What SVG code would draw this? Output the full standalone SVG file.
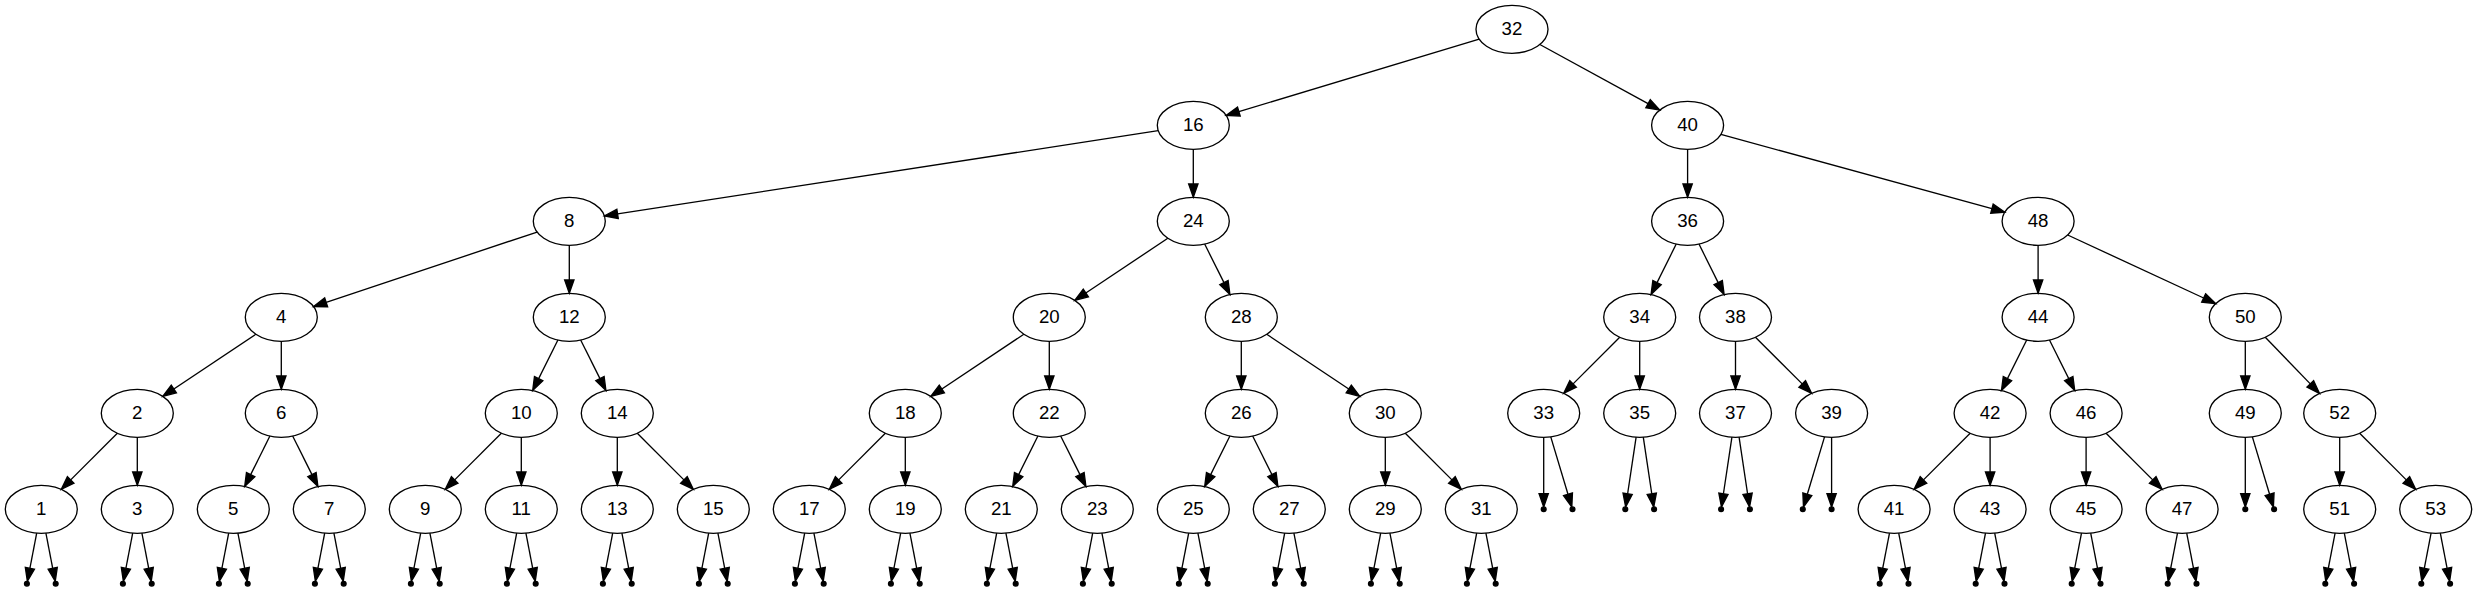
<svg xmlns="http://www.w3.org/2000/svg" width="2477" height="591" viewBox="0 0 2477 591">
<style>
.n ellipse{fill:none;stroke:#000;stroke-width:1.33}
.n text{font-family:"Liberation Sans",Arial,sans-serif;font-size:18.67px;text-anchor:middle;fill:#000}
.p circle{fill:#000;stroke:#000;stroke-width:1.33}
#edges path{fill:none;stroke:#000;stroke-width:1.33;marker-end:url(#arr)}
</style>
<defs>
<marker id="arr" markerUnits="userSpaceOnUse" markerWidth="16" markerHeight="12" viewBox="0 0 16 12" refX="0" refY="4.67" orient="auto" overflow="visible">
<path d="M0,0 L13.33,4.67 L0,9.33 Z" fill="#000" stroke="#000" stroke-width="1.33"/>
</marker>
</defs>
<rect width="2477" height="591" fill="#fff"/>
<g id="edges">
<path d="M1479.19,39.18 L1238.87,111.58"/>
<path d="M1539.84,44.52 L1648.06,103.69"/>
<path d="M1158.22,130.7 L617.56,213.87"/>
<path d="M1193.3,149.3 L1193.3,183.97"/>
<path d="M1687.6,149.3 L1687.6,183.97"/>
<path d="M1720.9,134.42 L1991.94,208.66"/>
<path d="M537.1,232.03 L326.15,302.35"/>
<path d="M569.3,245.3 L569.3,279.97"/>
<path d="M1167.84,238.27 L1085.85,292.94"/>
<path d="M1204.68,244.07 L1223.96,282.61"/>
<path d="M1676.24,244.07 L1657.02,282.61"/>
<path d="M1698.96,244.07 L1718.18,282.61"/>
<path d="M2038.1,245.3 L2038.1,279.97"/>
<path d="M2067.66,235 L2203.64,298"/>
<path d="M255.84,334.27 L173.85,388.94"/>
<path d="M281.3,341.3 L281.3,375.97"/>
<path d="M557.92,340.07 L538.64,378.61"/>
<path d="M580.68,340.07 L599.96,378.61"/>
<path d="M1023.84,334.27 L941.85,388.94"/>
<path d="M1049.3,341.3 L1049.3,375.97"/>
<path d="M1241.3,341.3 L1241.3,375.97"/>
<path d="M1266.76,334.27 L1348.75,388.94"/>
<path d="M1619.73,337.27 L1573.1,383.9"/>
<path d="M1639.7,341.3 L1639.7,375.97"/>
<path d="M1735.5,341.3 L1735.5,375.97"/>
<path d="M1755.47,337.27 L1802.2,383.9"/>
<path d="M2026.72,340.07 L2007.44,378.61"/>
<path d="M2049.48,340.07 L2068.76,378.61"/>
<path d="M2245.3,341.3 L2245.3,375.97"/>
<path d="M2265.27,337.27 L2310.3,383.9"/>
<path d="M117.33,433.27 L70.7,479.9"/>
<path d="M137.3,437.3 L137.3,471.97"/>
<path d="M269.92,436.07 L250.64,474.61"/>
<path d="M292.68,436.07 L311.96,474.61"/>
<path d="M501.33,433.27 L454.7,479.9"/>
<path d="M521.3,437.3 L521.3,471.97"/>
<path d="M617.3,437.3 L617.3,471.97"/>
<path d="M637.27,433.27 L683.9,479.9"/>
<path d="M885.33,433.27 L838.7,479.9"/>
<path d="M905.3,437.3 L905.3,471.97"/>
<path d="M1037.92,436.07 L1018.64,474.61"/>
<path d="M1060.68,436.07 L1079.96,474.61"/>
<path d="M1229.92,436.07 L1210.64,474.61"/>
<path d="M1252.68,436.07 L1271.96,474.61"/>
<path d="M1385.3,437.3 L1385.3,471.97"/>
<path d="M1405.27,433.27 L1451.9,479.9"/>
<path d="M1970.13,433.27 L1923.5,479.9"/>
<path d="M1990.1,437.3 L1990.1,471.97"/>
<path d="M2086.1,437.3 L2086.1,471.97"/>
<path d="M2106.07,433.27 L2152.7,479.9"/>
<path d="M2339.7,437.3 L2339.7,471.97"/>
<path d="M2359.67,433.27 L2406.3,479.9"/>
<path d="M1543.7,437.3 L1543.7,493.57"/>
<path d="M1550.76,436.83 L1567.98,494.23"/>
<path d="M1636.12,437.18 L1627.63,493.74"/>
<path d="M1643.28,437.18 L1651.77,493.74"/>
<path d="M1731.92,437.18 L1723.43,493.74"/>
<path d="M1739.08,437.18 L1747.57,493.74"/>
<path d="M1824.54,436.83 L1807.32,494.23"/>
<path d="M1831.6,437.3 L1831.6,493.57"/>
<path d="M2245.3,437.3 L2245.3,493.57"/>
<path d="M2252.36,436.83 L2269.58,494.23"/>
<path d="M36.69,533.1 L29.89,568.26"/><path d="M45.91,533.1 L52.71,568.26"/>
<path d="M132.69,533.1 L125.89,568.26"/><path d="M141.91,533.1 L148.71,568.26"/>
<path d="M228.69,533.1 L221.89,568.26"/><path d="M237.91,533.1 L244.71,568.26"/>
<path d="M324.69,533.1 L317.89,568.26"/><path d="M333.91,533.1 L340.71,568.26"/>
<path d="M420.69,533.1 L413.89,568.26"/><path d="M429.91,533.1 L436.71,568.26"/>
<path d="M516.69,533.1 L509.89,568.26"/><path d="M525.91,533.1 L532.71,568.26"/>
<path d="M612.69,533.1 L605.89,568.26"/><path d="M621.91,533.1 L628.71,568.26"/>
<path d="M708.69,533.1 L701.89,568.26"/><path d="M717.91,533.1 L724.71,568.26"/>
<path d="M804.69,533.1 L797.89,568.26"/><path d="M813.91,533.1 L820.71,568.26"/>
<path d="M900.69,533.1 L893.89,568.26"/><path d="M909.91,533.1 L916.71,568.26"/>
<path d="M996.69,533.1 L989.89,568.26"/><path d="M1005.91,533.1 L1012.71,568.26"/>
<path d="M1092.69,533.1 L1085.89,568.26"/><path d="M1101.91,533.1 L1108.71,568.26"/>
<path d="M1188.69,533.1 L1181.89,568.26"/><path d="M1197.91,533.1 L1204.71,568.26"/>
<path d="M1284.69,533.1 L1277.89,568.26"/><path d="M1293.91,533.1 L1300.71,568.26"/>
<path d="M1380.69,533.1 L1373.89,568.26"/><path d="M1389.91,533.1 L1396.71,568.26"/>
<path d="M1476.69,533.1 L1469.89,568.26"/><path d="M1485.91,533.1 L1492.71,568.26"/>
<path d="M1889.49,533.1 L1882.69,568.26"/><path d="M1898.71,533.1 L1905.51,568.26"/>
<path d="M1985.49,533.1 L1978.69,568.26"/><path d="M1994.71,533.1 L2001.51,568.26"/>
<path d="M2081.49,533.1 L2074.69,568.26"/><path d="M2090.71,533.1 L2097.51,568.26"/>
<path d="M2177.49,533.1 L2170.69,568.26"/><path d="M2186.71,533.1 L2193.51,568.26"/>
<path d="M2335.09,533.1 L2328.29,568.26"/><path d="M2344.31,533.1 L2351.11,568.26"/>
<path d="M2431.09,533.1 L2424.29,568.26"/><path d="M2440.31,533.1 L2447.11,568.26"/>
</g>
<g id="n32" class="n"><ellipse cx="1512" cy="29.3" rx="36" ry="24"/><text x="1512" y="34.9">32</text></g>
<g id="n16" class="n"><ellipse cx="1193.3" cy="125.3" rx="36" ry="24"/><text x="1193.3" y="130.9">16</text></g>
<g id="n40" class="n"><ellipse cx="1687.6" cy="125.3" rx="36" ry="24"/><text x="1687.6" y="130.9">40</text></g>
<g id="n8" class="n"><ellipse cx="569.3" cy="221.3" rx="36" ry="24"/><text x="569.3" y="226.9">8</text></g>
<g id="n24" class="n"><ellipse cx="1193.3" cy="221.3" rx="36" ry="24"/><text x="1193.3" y="226.9">24</text></g>
<g id="n36" class="n"><ellipse cx="1687.6" cy="221.3" rx="36" ry="24"/><text x="1687.6" y="226.9">36</text></g>
<g id="n48" class="n"><ellipse cx="2038.1" cy="221.3" rx="36" ry="24"/><text x="2038.1" y="226.9">48</text></g>
<g id="n4" class="n"><ellipse cx="281.3" cy="317.3" rx="36" ry="24"/><text x="281.3" y="322.9">4</text></g>
<g id="n12" class="n"><ellipse cx="569.3" cy="317.3" rx="36" ry="24"/><text x="569.3" y="322.9">12</text></g>
<g id="n20" class="n"><ellipse cx="1049.3" cy="317.3" rx="36" ry="24"/><text x="1049.3" y="322.9">20</text></g>
<g id="n28" class="n"><ellipse cx="1241.3" cy="317.3" rx="36" ry="24"/><text x="1241.3" y="322.9">28</text></g>
<g id="n34" class="n"><ellipse cx="1639.7" cy="317.3" rx="36" ry="24"/><text x="1639.7" y="322.9">34</text></g>
<g id="n38" class="n"><ellipse cx="1735.5" cy="317.3" rx="36" ry="24"/><text x="1735.5" y="322.9">38</text></g>
<g id="n44" class="n"><ellipse cx="2038.1" cy="317.3" rx="36" ry="24"/><text x="2038.1" y="322.9">44</text></g>
<g id="n50" class="n"><ellipse cx="2245.3" cy="317.3" rx="36" ry="24"/><text x="2245.3" y="322.9">50</text></g>
<g id="n2" class="n"><ellipse cx="137.3" cy="413.3" rx="36" ry="24"/><text x="137.3" y="418.9">2</text></g>
<g id="n6" class="n"><ellipse cx="281.3" cy="413.3" rx="36" ry="24"/><text x="281.3" y="418.9">6</text></g>
<g id="n10" class="n"><ellipse cx="521.3" cy="413.3" rx="36" ry="24"/><text x="521.3" y="418.9">10</text></g>
<g id="n14" class="n"><ellipse cx="617.3" cy="413.3" rx="36" ry="24"/><text x="617.3" y="418.9">14</text></g>
<g id="n18" class="n"><ellipse cx="905.3" cy="413.3" rx="36" ry="24"/><text x="905.3" y="418.9">18</text></g>
<g id="n22" class="n"><ellipse cx="1049.3" cy="413.3" rx="36" ry="24"/><text x="1049.3" y="418.9">22</text></g>
<g id="n26" class="n"><ellipse cx="1241.3" cy="413.3" rx="36" ry="24"/><text x="1241.3" y="418.9">26</text></g>
<g id="n30" class="n"><ellipse cx="1385.3" cy="413.3" rx="36" ry="24"/><text x="1385.3" y="418.9">30</text></g>
<g id="n33" class="n"><ellipse cx="1543.7" cy="413.3" rx="36" ry="24"/><text x="1543.7" y="418.9">33</text></g>
<g id="n35" class="n"><ellipse cx="1639.7" cy="413.3" rx="36" ry="24"/><text x="1639.7" y="418.9">35</text></g>
<g id="n37" class="n"><ellipse cx="1735.5" cy="413.3" rx="36" ry="24"/><text x="1735.5" y="418.9">37</text></g>
<g id="n39" class="n"><ellipse cx="1831.6" cy="413.3" rx="36" ry="24"/><text x="1831.6" y="418.9">39</text></g>
<g id="n42" class="n"><ellipse cx="1990.1" cy="413.3" rx="36" ry="24"/><text x="1990.1" y="418.9">42</text></g>
<g id="n46" class="n"><ellipse cx="2086.1" cy="413.3" rx="36" ry="24"/><text x="2086.1" y="418.9">46</text></g>
<g id="n49" class="n"><ellipse cx="2245.3" cy="413.3" rx="36" ry="24"/><text x="2245.3" y="418.9">49</text></g>
<g id="n52" class="n"><ellipse cx="2339.7" cy="413.3" rx="36" ry="24"/><text x="2339.7" y="418.9">52</text></g>
<g id="n1" class="n"><ellipse cx="41.3" cy="509.3" rx="36" ry="24"/><text x="41.3" y="514.9">1</text></g>
<g id="n3" class="n"><ellipse cx="137.3" cy="509.3" rx="36" ry="24"/><text x="137.3" y="514.9">3</text></g>
<g id="n5" class="n"><ellipse cx="233.3" cy="509.3" rx="36" ry="24"/><text x="233.3" y="514.9">5</text></g>
<g id="n7" class="n"><ellipse cx="329.3" cy="509.3" rx="36" ry="24"/><text x="329.3" y="514.9">7</text></g>
<g id="n9" class="n"><ellipse cx="425.3" cy="509.3" rx="36" ry="24"/><text x="425.3" y="514.9">9</text></g>
<g id="n11" class="n"><ellipse cx="521.3" cy="509.3" rx="36" ry="24"/><text x="521.3" y="514.9">11</text></g>
<g id="n13" class="n"><ellipse cx="617.3" cy="509.3" rx="36" ry="24"/><text x="617.3" y="514.9">13</text></g>
<g id="n15" class="n"><ellipse cx="713.3" cy="509.3" rx="36" ry="24"/><text x="713.3" y="514.9">15</text></g>
<g id="n17" class="n"><ellipse cx="809.3" cy="509.3" rx="36" ry="24"/><text x="809.3" y="514.9">17</text></g>
<g id="n19" class="n"><ellipse cx="905.3" cy="509.3" rx="36" ry="24"/><text x="905.3" y="514.9">19</text></g>
<g id="n21" class="n"><ellipse cx="1001.3" cy="509.3" rx="36" ry="24"/><text x="1001.3" y="514.9">21</text></g>
<g id="n23" class="n"><ellipse cx="1097.3" cy="509.3" rx="36" ry="24"/><text x="1097.3" y="514.9">23</text></g>
<g id="n25" class="n"><ellipse cx="1193.3" cy="509.3" rx="36" ry="24"/><text x="1193.3" y="514.9">25</text></g>
<g id="n27" class="n"><ellipse cx="1289.3" cy="509.3" rx="36" ry="24"/><text x="1289.3" y="514.9">27</text></g>
<g id="n29" class="n"><ellipse cx="1385.3" cy="509.3" rx="36" ry="24"/><text x="1385.3" y="514.9">29</text></g>
<g id="n31" class="n"><ellipse cx="1481.3" cy="509.3" rx="36" ry="24"/><text x="1481.3" y="514.9">31</text></g>
<g id="n41" class="n"><ellipse cx="1894.1" cy="509.3" rx="36" ry="24"/><text x="1894.1" y="514.9">41</text></g>
<g id="n43" class="n"><ellipse cx="1990.1" cy="509.3" rx="36" ry="24"/><text x="1990.1" y="514.9">43</text></g>
<g id="n45" class="n"><ellipse cx="2086.1" cy="509.3" rx="36" ry="24"/><text x="2086.1" y="514.9">45</text></g>
<g id="n47" class="n"><ellipse cx="2182.1" cy="509.3" rx="36" ry="24"/><text x="2182.1" y="514.9">47</text></g>
<g id="n51" class="n"><ellipse cx="2339.7" cy="509.3" rx="36" ry="24"/><text x="2339.7" y="514.9">51</text></g>
<g id="n53" class="n"><ellipse cx="2435.7" cy="509.3" rx="36" ry="24"/><text x="2435.7" y="514.9">53</text></g>
<g id="nil33L" class="p"><circle cx="1543.7" cy="509.3" r="2.4"/></g>
<g id="nil33R" class="p"><circle cx="1572.5" cy="509.3" r="2.4"/></g>
<g id="nil35L" class="p"><circle cx="1625.3" cy="509.3" r="2.4"/></g>
<g id="nil35R" class="p"><circle cx="1654.1" cy="509.3" r="2.4"/></g>
<g id="nil37L" class="p"><circle cx="1721.1" cy="509.3" r="2.4"/></g>
<g id="nil37R" class="p"><circle cx="1749.9" cy="509.3" r="2.4"/></g>
<g id="nil39L" class="p"><circle cx="1802.8" cy="509.3" r="2.4"/></g>
<g id="nil39R" class="p"><circle cx="1831.6" cy="509.3" r="2.4"/></g>
<g id="nil49L" class="p"><circle cx="2245.3" cy="509.3" r="2.4"/></g>
<g id="nil49R" class="p"><circle cx="2274.1" cy="509.3" r="2.4"/></g>
<g id="nil1L" class="p"><circle cx="26.9" cy="583.7" r="2.4"/></g><g id="nil1R" class="p"><circle cx="55.7" cy="583.7" r="2.4"/></g>
<g id="nil3L" class="p"><circle cx="122.9" cy="583.7" r="2.4"/></g><g id="nil3R" class="p"><circle cx="151.7" cy="583.7" r="2.4"/></g>
<g id="nil5L" class="p"><circle cx="218.9" cy="583.7" r="2.4"/></g><g id="nil5R" class="p"><circle cx="247.7" cy="583.7" r="2.4"/></g>
<g id="nil7L" class="p"><circle cx="314.9" cy="583.7" r="2.4"/></g><g id="nil7R" class="p"><circle cx="343.7" cy="583.7" r="2.4"/></g>
<g id="nil9L" class="p"><circle cx="410.9" cy="583.7" r="2.4"/></g><g id="nil9R" class="p"><circle cx="439.7" cy="583.7" r="2.4"/></g>
<g id="nil11L" class="p"><circle cx="506.9" cy="583.7" r="2.4"/></g><g id="nil11R" class="p"><circle cx="535.7" cy="583.7" r="2.4"/></g>
<g id="nil13L" class="p"><circle cx="602.9" cy="583.7" r="2.4"/></g><g id="nil13R" class="p"><circle cx="631.7" cy="583.7" r="2.4"/></g>
<g id="nil15L" class="p"><circle cx="698.9" cy="583.7" r="2.4"/></g><g id="nil15R" class="p"><circle cx="727.7" cy="583.7" r="2.4"/></g>
<g id="nil17L" class="p"><circle cx="794.9" cy="583.7" r="2.4"/></g><g id="nil17R" class="p"><circle cx="823.7" cy="583.7" r="2.4"/></g>
<g id="nil19L" class="p"><circle cx="890.9" cy="583.7" r="2.4"/></g><g id="nil19R" class="p"><circle cx="919.7" cy="583.7" r="2.4"/></g>
<g id="nil21L" class="p"><circle cx="986.9" cy="583.7" r="2.4"/></g><g id="nil21R" class="p"><circle cx="1015.7" cy="583.7" r="2.4"/></g>
<g id="nil23L" class="p"><circle cx="1082.9" cy="583.7" r="2.4"/></g><g id="nil23R" class="p"><circle cx="1111.7" cy="583.7" r="2.4"/></g>
<g id="nil25L" class="p"><circle cx="1178.9" cy="583.7" r="2.4"/></g><g id="nil25R" class="p"><circle cx="1207.7" cy="583.7" r="2.4"/></g>
<g id="nil27L" class="p"><circle cx="1274.9" cy="583.7" r="2.4"/></g><g id="nil27R" class="p"><circle cx="1303.7" cy="583.7" r="2.4"/></g>
<g id="nil29L" class="p"><circle cx="1370.9" cy="583.7" r="2.4"/></g><g id="nil29R" class="p"><circle cx="1399.7" cy="583.7" r="2.4"/></g>
<g id="nil31L" class="p"><circle cx="1466.9" cy="583.7" r="2.4"/></g><g id="nil31R" class="p"><circle cx="1495.7" cy="583.7" r="2.4"/></g>
<g id="nil41L" class="p"><circle cx="1879.7" cy="583.7" r="2.4"/></g><g id="nil41R" class="p"><circle cx="1908.5" cy="583.7" r="2.4"/></g>
<g id="nil43L" class="p"><circle cx="1975.7" cy="583.7" r="2.4"/></g><g id="nil43R" class="p"><circle cx="2004.5" cy="583.7" r="2.4"/></g>
<g id="nil45L" class="p"><circle cx="2071.7" cy="583.7" r="2.4"/></g><g id="nil45R" class="p"><circle cx="2100.5" cy="583.7" r="2.4"/></g>
<g id="nil47L" class="p"><circle cx="2167.7" cy="583.7" r="2.4"/></g><g id="nil47R" class="p"><circle cx="2196.5" cy="583.7" r="2.4"/></g>
<g id="nil51L" class="p"><circle cx="2325.3" cy="583.7" r="2.4"/></g><g id="nil51R" class="p"><circle cx="2354.1" cy="583.7" r="2.4"/></g>
<g id="nil53L" class="p"><circle cx="2421.3" cy="583.7" r="2.4"/></g><g id="nil53R" class="p"><circle cx="2450.1" cy="583.7" r="2.4"/></g>
</svg>
